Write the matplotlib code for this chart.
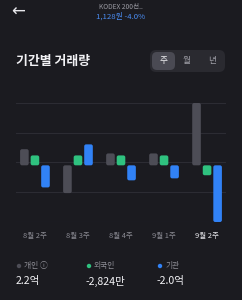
import matplotlib.pyplot as plt
from matplotlib.patches import FancyBboxPatch, Circle

plt.rcParams['font.family'] = ['Noto Sans CJK KR', 'DejaVu Sans']

# 기간별 거래량 (단위: 억)
weeks = ["8월 2주", "8월 3주", "8월 4주", "9월 1주", "9월 2주"]
individual = [0.57, -0.98, 0.42, 0.42, 2.2]
foreign = [0.05, 0.08, 0.06, 0.05, -0.28]
institution = [-0.78, 0.74, -0.53, -0.46, -2.0]

legend_names = ["개인 ⓘ", "외국인", "기관"]
legend_values = ["2.2억", "-2,824만", "-2.0억"]

BG = "#1b1b20"
GRAY = "#4d4d56"
GREEN = "#2fc27f"
BLUE = "#3182f6"
GRID = "#2c2c33"

fig = plt.figure(figsize=(2.42, 3.0), dpi=100, facecolor=BG)

# overlay in pixel coords for header / legend
ov = fig.add_axes([0, 0, 1, 1])
ov.set_xlim(0, 242)
ov.set_ylim(300, 0)
ov.axis("off")
ov.set_facecolor(BG)

ov.text(18, 12, "←", color="#e8e8ec", fontsize=12, ha="center", va="center",
        family="DejaVu Sans")
ov.text(121, 7, "KODEX 200선..", color="#9a9aa2", fontsize=4.8, ha="center", va="center")
ov.text(121, 16, "1,128원 -4.0%", color="#4b8ef5", fontsize=5.6, ha="center", va="center")

ov.text(16, 61, "기간별 거래량", color="#f2f2f5", fontsize=9.3, fontweight="bold",
        ha="left", va="center")

ov.add_patch(FancyBboxPatch((150, 50), 75, 22, boxstyle="round,pad=0,rounding_size=6",
                            fc="#2a2a30", ec="none"))
ov.add_patch(FancyBboxPatch((152, 52), 23, 18, boxstyle="round,pad=0,rounding_size=5",
                            fc="#4a4a53", ec="none"))
for x, s, c in [(163.5, "주", "#f2f2f5"), (187, "월", "#a0a0a8"), (212, "년", "#a0a0a8")]:
    ov.text(x, 61, s, color=c, fontsize=6.2, ha="center", va="center")

for x, col, name, val in zip([19, 89, 160], [GRAY, GREEN, BLUE], legend_names, legend_values):
    ov.add_patch(Circle((x, 266), 2.2, fc=col, ec="none"))
    ov.text(x + 5, 266, name, color="#8e8e96", fontsize=5.6, ha="left", va="center")
    ov.text(x - 3, 281, val, color="#f2f2f5", fontsize=7.6, ha="left", va="center")

# chart
ax = fig.add_axes([16 / 242, 1 - 222 / 300, 210 / 242, 119 / 300])
ax.set_facecolor("none")
ax.set_xlim(-0.44, 4.44)
ax.set_ylim(-2.0, 2.2)
for f in [0, 0.25, 0.5, 0.75, 1.0]:
    ax.axhline(-2.0 + 4.2 * f, color=GRID, lw=0.8, zorder=0)

min_h = 0.35
off = 0.245
w = 0.2
for i in range(len(weeks)):
    for dx, v, col in [(-off, individual[i], GRAY), (0, foreign[i], GREEN),
                       (off, institution[i], BLUE)]:
        h = v if abs(v) >= min_h else (min_h if v >= 0 else -min_h)
        y0 = min(0, h)
        ax.add_patch(FancyBboxPatch((i + dx - w / 2, y0), w, abs(h),
                                    boxstyle="round,pad=0,rounding_size=0.045",
                                    mutation_aspect=1.5, fc=col, ec="none", zorder=3))

ax.set_xticks(range(len(weeks)))
ax.set_xticklabels(weeks, fontsize=5.4, color="#8a8a92")
ax.get_xticklabels()[-1].set_color("#e8e8ec")
ax.tick_params(axis="x", length=0, pad=7)
ax.set_yticks([])
for s in ax.spines.values():
    s.set_visible(False)

fig.savefig("out.png", dpi=100, facecolor=BG)
